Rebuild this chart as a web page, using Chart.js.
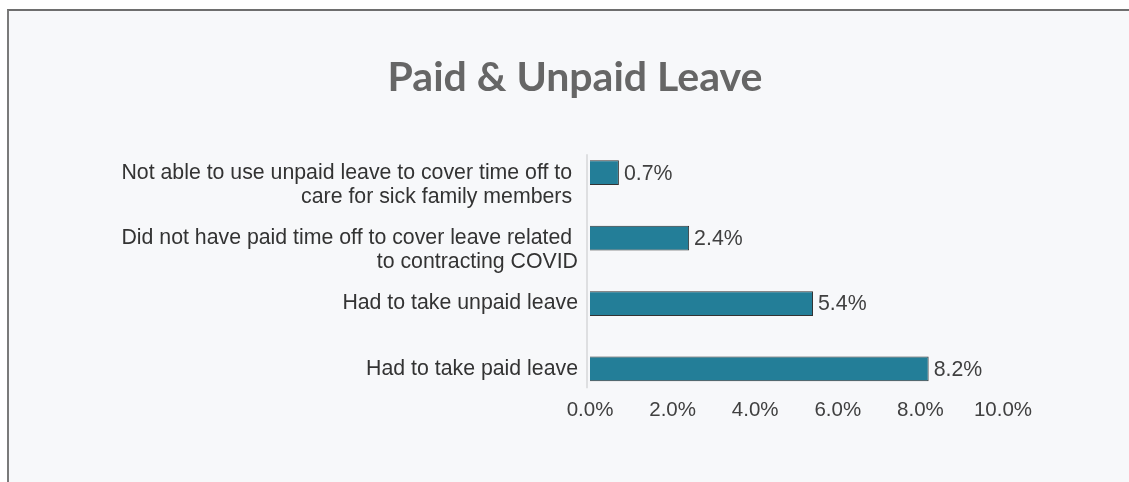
<!DOCTYPE html>
<html>
<head>
<meta charset="utf-8">
<script src="https://cdn.jsdelivr.net/npm/chart.js@4.4.1/dist/chart.umd.min.js"></script>
<style>
  html, body { margin: 0; padding: 0; background: #ffffff; overflow: hidden; }
  #frame { position: absolute; left: 7px; top: 9px; width: 1122px; height: 473px; box-sizing: border-box;
           background: #f7f8fa; border-top: 2px solid #6e6e6e; border-left: 2px solid #7a7a7a; border-right: 0; border-bottom: 0; }
  #c { position: absolute; left: 0; top: 0; }
</style>
</head>
<body>
<div id="frame"></div>
<canvas id="c" width="1129" height="482"></canvas>
<script>
const chartTitle = "Paid & Unpaid Leave";
const categories = [
  ["Not able to use unpaid leave to cover time off to ", "care for sick family members "],
  ["Did not have paid time off to cover leave related ", "to contracting COVID"],
  "Had to take unpaid leave",
  "Had to take paid leave"
];
const values = [0.7, 2.4, 5.4, 8.2];
const xTicks = [0, 2, 4, 6, 8, 10];

const labelFont = "'Liberation Sans', Arial, sans-serif";

const valueLabels = {
  id: 'valueLabels',
  afterDatasetsDraw(chart) {
    const ctx = chart.ctx;
    const meta = chart.getDatasetMeta(0);
    ctx.save();
    ctx.font = "21.3px " + labelFont;
    ctx.fillStyle = '#404040';
    ctx.textAlign = 'left';
    ctx.textBaseline = 'middle';
    meta.data.forEach((bar, i) => {
      ctx.fillText(values[i].toFixed(1) + '%', bar.x + 5, bar.y + 1);
    });
    ctx.restore();
  }
};

const axisLine = {
  id: 'axisLine',
  beforeDatasetsDraw(chart) {
    const ctx = chart.ctx;
    const meta = chart.getDatasetMeta(0);
    const first = meta.data[0], last = meta.data[meta.data.length - 1];
    const x = chart.chartArea.left - 3;
    ctx.save();
    ctx.strokeStyle = '#dedfe1';
    ctx.lineWidth = 2;
    ctx.beginPath();
    ctx.moveTo(x, first.y - first.height / 2 - 6);
    ctx.lineTo(x, last.y + last.height / 2 + 7);
    ctx.stroke();
    ctx.restore();
  }
};

// centre the title over the whole frame rather than the padded box
const titleCentre = {
  id: 'titleCentre',
  afterLayout(chart) {
    const t = chart.titleBlock;
    if (t) { t.left = 21; t.right = chart.width; t.width = t.right - t.left; }
  }
};

new Chart(document.getElementById('c'), {
  type: 'bar',
  data: {
    labels: categories,
    datasets: [{
      data: values,
      backgroundColor: '#237e98',
      borderColor: '#333333',
      borderWidth: 1,
      categoryPercentage: 1,
      barPercentage: 0.378
    }]
  },
  options: {
    indexAxis: 'y',
    responsive: false,
    animation: false,
    events: [],
    layout: { padding: { left: 0, right: 126, top: 0, bottom: 63.7 } },
    plugins: {
      legend: { display: false },
      tooltip: { enabled: false },
      title: {
        display: true,
        text: chartTitle,
        color: '#666666',
        font: { family: "Lato, 'Open Sans', sans-serif", size: 41, weight: 'bold', lineHeight: 1.2 },
        padding: { top: 53, bottom: 37.7 }
      }
    },
    scales: {
      x: {
        min: 0, max: 10,
        afterBuildTicks(scale) { scale.ticks = xTicks.map(v => ({ value: v })); },
        grid: { display: false, drawTicks: false },
        border: { display: false },
        ticks: {
          padding: -4,
          color: '#404040',
          font: { family: labelFont, size: 20.5 },
          callback: v => Number(v).toFixed(1) + '%'
        }
      },
      y: {
        afterFit(scale) { scale.width = 590; },
        grid: { display: false, drawTicks: false },
        border: { display: false },
        ticks: {
          autoSkip: false,
          padding: 12,
          color: '#333333',
          font: { family: labelFont, size: 21.3, lineHeight: 1.15 },
          callback: function (v, i) {
            const l = categories[i];
            return Array.isArray(l) ? [''].concat(l) : l;
          }
        }
      }
    }
  },
  plugins: [titleCentre, axisLine, valueLabels]
});
</script>
</body>
</html>
